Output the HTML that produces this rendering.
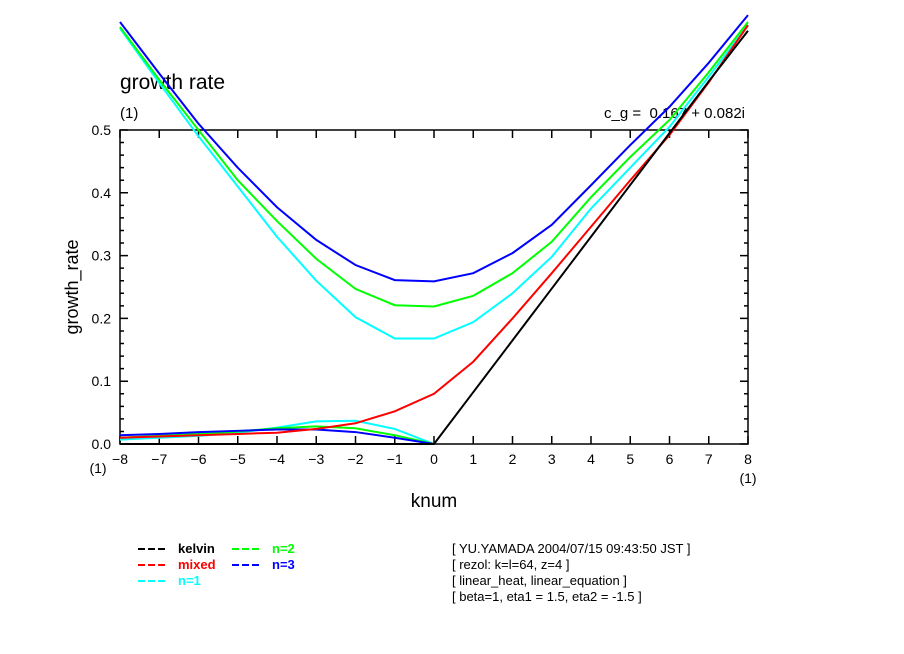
<!DOCTYPE html>
<html><head><meta charset="utf-8"><style>
body{margin:0;background:#fff;}
svg{display:block;font-family:"Liberation Sans","DejaVu Sans",sans-serif;}
</style></head><body>
<svg id="chart" width="904" height="654" viewBox="0 0 904 654" xmlns="http://www.w3.org/2000/svg">
<rect width="904" height="654" fill="#fff"/>
<text x="120" y="89" font-size="21">growth rate</text>
<text x="120" y="118" font-size="15">(1)</text>
<text x="745" y="118" font-size="15" text-anchor="end" xml:space="preserve">c_g =  0.167 + 0.082i</text>
<g id="axes"></g>
<g id="series"></g>
<text transform="translate(78,287) rotate(-90)" font-size="18" text-anchor="middle">growth_rate</text>
<text x="434" y="507" font-size="19" text-anchor="middle">knum</text>
<text x="98" y="473" font-size="14" text-anchor="middle">(1)</text>
<text x="748" y="483" font-size="14" text-anchor="middle">(1)</text>
<g font-size="13" font-weight="bold">
<g><line x1="138" y1="549" x2="165" y2="549" stroke="#000" stroke-width="2" stroke-dasharray="7,3"/><text x="178" y="553" fill="#000">kelvin</text></g>
<g><line x1="138" y1="565" x2="165" y2="565" stroke="#f00" stroke-width="2" stroke-dasharray="7,3"/><text x="178" y="569" fill="#f00">mixed</text></g>
<g><line x1="138" y1="581" x2="165" y2="581" stroke="#0ff" stroke-width="2" stroke-dasharray="7,3"/><text x="178" y="585" fill="#0ff">n=1</text></g>
<g><line x1="232" y1="549" x2="259" y2="549" stroke="#0f0" stroke-width="2" stroke-dasharray="7,3"/><text x="272" y="553" fill="#0f0">n=2</text></g>
<g><line x1="232" y1="565" x2="259" y2="565" stroke="#00f" stroke-width="2" stroke-dasharray="7,3"/><text x="272" y="569" fill="#00f">n=3</text></g>
</g>
<g font-size="13" xml:space="preserve">
<text x="452" y="553">[ YU.YAMADA 2004/07/15 09:43:50 JST ]</text>
<text x="452" y="569">[ rezol: k=l=64, z=4 ]</text>
<text x="452" y="585">[ linear_heat, linear_equation ]</text>
<text x="452" y="601">[ beta=1, eta1 = 1.5, eta2 = -1.5 ]</text>
</g>
</svg>
<script>
const kValues=[-8,-7,-6,-5,-4,-3,-2,-1,0,1,2,3,4,5,6,7,8];
const kelvin=[0,0,0,0,0,0,0,0,0,0.0825,0.165,0.2475,0.33,0.4125,0.495,0.5775,0.658];
const mixed=[0.01,0.012,0.014,0.016,0.018,0.024,0.033,0.052,0.08,0.131,0.2,0.272,0.346,0.42,0.492,0.576,0.667];
const n1Upper=[0.662,0.575,0.49,0.41,0.33,0.26,0.202,0.168,0.168,0.194,0.24,0.298,0.375,0.44,0.505,0.585,0.667];
const n2Upper=[0.664,0.58,0.5,0.42,0.355,0.295,0.247,0.221,0.219,0.236,0.272,0.322,0.393,0.457,0.516,0.592,0.672];
const n3Upper=[0.672,0.59,0.51,0.44,0.377,0.325,0.285,0.261,0.259,0.272,0.304,0.349,0.412,0.476,0.537,0.607,0.683];
const kLower=[-8,-7,-6,-5,-4,-3,-2,-1,0];
const n1Lower=[0.007,0.01,0.013,0.018,0.026,0.036,0.037,0.024,0];
const n2Lower=[0.01,0.013,0.016,0.02,0.025,0.028,0.025,0.014,0];
const n3Lower=[0.014,0.016,0.019,0.021,0.023,0.023,0.019,0.01,0];
const xTicks=[-8,-7,-6,-5,-4,-3,-2,-1,0,1,2,3,4,5,6,7,8];
const yTicks=[0,0.1,0.2,0.3,0.4,0.5];
const yTickLabels=["0.0","0.1","0.2","0.3","0.4","0.5"];

const NS="http://www.w3.org/2000/svg";
const X0=120,X1=748,Y0=444,Y1=130;
function xs(k){return X0+(k+8)/16*(X1-X0);}
function ys(v){return Y0-v/0.5*(Y0-Y1);}
function mk(tag,attrs,parent){const e=document.createElementNS(NS,tag);for(const a in attrs)e.setAttribute(a,attrs[a]);parent.appendChild(e);return e;}
const axes=document.getElementById('axes');
const frame=mk('rect',{x:X0,y:Y1,width:X1-X0,height:Y0-Y1,fill:'none',stroke:'#000','stroke-width':1.5},axes);


xTicks.forEach(k=>{
  const x=xs(k);
  const t=mk('path',{d:`M${x},${Y0}V${Y0-8}M${x},${Y1}V${Y1+8}`,stroke:'#000','stroke-width':1.5},axes);
  
  
  const l=mk('text',{x:x,y:Y0+20,'font-size':14,'text-anchor':'middle'},axes);
  l.textContent=k<0?'\u2212'+(-k):String(k);
  
  
});
for(let i=0;i<=25;i++){
  const v=i*0.02,y=ys(v),len=(i%5===0)?8:4;
  const t=mk('path',{d:`M${X0},${y}H${X0+len}M${X1},${y}H${X1-len}`,stroke:'#000','stroke-width':1.5},axes);
  
  
}
yTicks.forEach((v,i)=>{
  const l=mk('text',{x:X0-9,y:ys(v)+5,'font-size':14,'text-anchor':'end'},axes);
  l.textContent=yTickLabels[i];
  
  
});
const series=document.getElementById('series');
function line(ks,vals,color,name){
  const p=mk('polyline',{points:ks.map((k,i)=>xs(k)+','+ys(vals[i])).join(' '),fill:'none',stroke:color,'stroke-width':2},series);
  
  
}
line(kLower,n1Lower,'#0ff','n1-lower-line');
line(kLower,n2Lower,'#0f0','n2-lower-line');
line(kLower,n3Lower,'#00f','n3-lower-line');
line(kValues,n1Upper,'#0ff','n1-upper-line');
line(kValues,n2Upper,'#0f0','n2-upper-line');
line(kValues,n3Upper,'#00f','n3-upper-line');
line(kValues,mixed,'#f00','mixed-line');
line(kValues,kelvin,'#000','kelvin-line');
</script>
</body></html>
